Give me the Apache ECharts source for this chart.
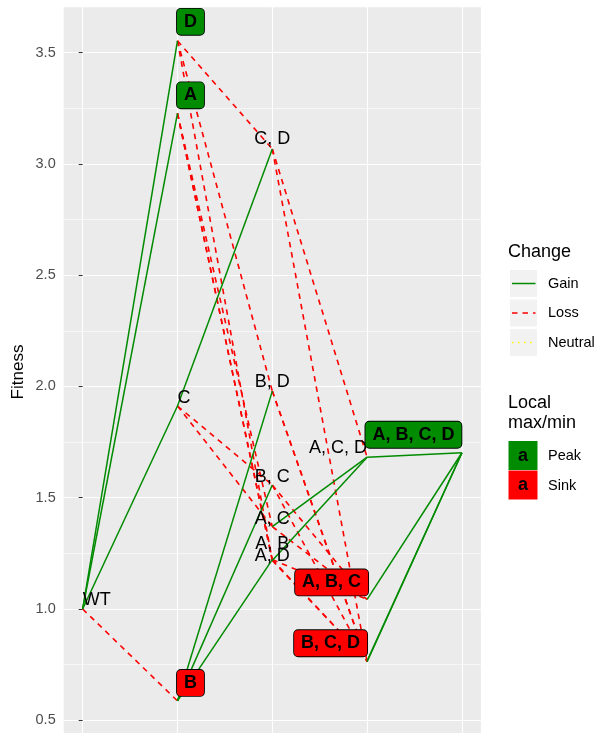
<!DOCTYPE html>
<html><head><meta charset="utf-8">
<script src="https://cdn.jsdelivr.net/npm/echarts@6/dist/echarts.min.js"></script>
<style>html,body{margin:0;padding:0;background:#fff}#c{width:598px;height:733px}</style>
</head><body><div id="c"></div>
<script>
// ---- data ----
const genotypes = ["WT","A","B","C","D","A, B","A, C","A, D","B, C","B, D","C, D","A, B, C","A, B, D","A, C, D","B, C, D","A, B, C, D"];
const mutations = [0,1,1,1,1,2,2,2,2,2,2,3,3,3,3,4];
const fitness   = [1.000,3.227,0.587,1.912,3.553,1.222,1.370,1.218,1.557,1.979,3.067,1.043,0.767,1.682,0.763,1.702];
const edges = [
  ["WT","A"],["WT","B"],["WT","C"],["WT","D"],
  ["A","A, B"],["A","A, C"],["A","A, D"],["B","A, B"],["B","B, C"],["B","B, D"],
  ["C","A, C"],["C","B, C"],["C","C, D"],["D","A, D"],["D","B, D"],["D","C, D"],
  ["A, B","A, B, C"],["A, B","A, B, D"],["A, C","A, B, C"],["A, C","A, C, D"],
  ["A, D","A, B, D"],["A, D","A, C, D"],["B, C","A, B, C"],["B, C","B, C, D"],
  ["B, D","A, B, D"],["B, D","B, C, D"],["C, D","A, C, D"],["C, D","B, C, D"],
  ["A, B, C","A, B, C, D"],["A, B, D","A, B, C, D"],["A, C, D","A, B, C, D"],["B, C, D","A, B, C, D"]
];
const peaks = ["A","D","A, B, C, D"];
const sinks = ["B","A, B, C","A, B, D","B, C, D"];
const yTicks = [0.5,1.0,1.5,2.0,2.5,3.0,3.5];
const changeLevels = ["Gain","Loss","Neutral"];
const localLevels = ["Peak","Sink"];

// ---- styling (label placement in pixels, not data) ----
const labelPlace = {
  "WT":['left',0,-9], "A":['center',13,-18], "B":['center',13,-18], "C":['left',0,-8], "D":['center',13,-19],
  "A, B":['center',0,-16], "A, C":['center',0,-8], "A, D":['center',0,-4], "B, C":['center',0,-8],
  "B, D":['center',0,-9], "C, D":['center',0,-10],
  "A, B, C":['center',-35.5,-17], "A, B, D":null, "A, C, D":['right',0,-9],
  "B, C, D":['center',-36.5,-18.5], "A, B, C, D":['center',-48.5,-18]
};
const GREEN = '#008B00', RED = '#FF0000';
const FONT = '"Liberation Sans", Arial, Helvetica, sans-serif';

const idx = {}; genotypes.forEach((g,i)=>idx[g]=i);
const gainData = [], lossData = [];
edges.forEach(([a,b])=>{
  const ia = idx[a], ib = idx[b];
  const item = {coords:[[mutations[ia],fitness[ia]],[mutations[ib],fitness[ib]]]};
  (fitness[ib] > fitness[ia] ? gainData : lossData).push(item);
});

const nodeData = genotypes.map((g,i)=>{
  const p = labelPlace[g];
  const isPeak = peaks.includes(g), isSink = sinks.includes(g);
  const lab = p ? {
    show:true, position:'inside', align:p[0], verticalAlign:'middle', offset:[p[1],p[2]],
    formatter:g, color:'#000', opacity:1, fontFamily:FONT, fontSize:18, lineHeight:18
  } : {show:false};
  if (p && (isPeak || isSink)) {
    Object.assign(lab, {
      fontWeight:'bold', backgroundColor: isPeak ? GREEN : RED,
      borderColor:'#000', borderWidth:0.9, borderRadius:4, padding:[4,7,4,7]
    });
  }
  return {name:g, value:[mutations[i], fitness[i]], label:lab};
});

const chart = echarts.init(document.getElementById('c'), null, {renderer:'canvas'});

// panel geometry: y from 0 to 4 maps to pixels 831.57 .. -58.7
const gTop = -58.7, gBottom = 733 - 831.57;

const legendX = 508;
const keyX = 510, keyW = 27;
const graphics = [
  {type:'rect', z:50, shape:{x:0,y:-100,width:598,height:107.3}, style:{fill:'#fff'}},
  {type:'text', z:60, x:18, y:372, rotation:Math.PI/2,
   style:{text:'Fitness', fill:'#000', font:'17px '+FONT, align:'center', verticalAlign:'middle'}},
  {type:'text', z:60, x:legendX, y:252, style:{text:'Change', fill:'#000', font:'18px '+FONT, align:'left', verticalAlign:'middle'}},
  {type:'text', z:60, x:legendX, y:403.5, style:{text:'Local', fill:'#000', font:'18px '+FONT, align:'left', verticalAlign:'middle'}},
  {type:'text', z:60, x:legendX, y:423.5, style:{text:'max/min', fill:'#000', font:'18px '+FONT, align:'left', verticalAlign:'middle'}}
];
const keyYs = [270, 299.5, 329];
const keyLine = [
  {stroke:GREEN, lineDash:null},
  {stroke:RED, lineDash:[5.5,5]},
  {stroke:'#FFFF00', lineDash:[1.5,4.5]}
];
changeLevels.forEach((t,i)=>{
  const y0 = keyYs[i];
  graphics.push({type:'rect', z:60, shape:{x:keyX, y:y0, width:keyW, height:27}, style:{fill:'#F2F2F2'}});
  graphics.push({type:'line', z:61, shape:{x1:keyX+2, y1:y0+13.5, x2:keyX+25.5, y2:y0+13.5},
    style:{stroke:keyLine[i].stroke, lineWidth:1.5, lineDash:keyLine[i].lineDash}});
  graphics.push({type:'text', z:61, x:548, y:y0+13.5, style:{text:t, fill:'#000', font:'14.5px '+FONT, align:'left', verticalAlign:'middle'}});
});
const locYs = [441, 470.5];
localLevels.forEach((t,i)=>{
  const y0 = locYs[i];
  graphics.push({type:'rect', z:60, shape:{x:508.5, y:y0, width:29, height:29}, style:{fill: i===0?GREEN:RED}});
  graphics.push({type:'text', z:61, x:523, y:y0+15, style:{text:'a', fill:'#000', font:'bold 18px '+FONT, align:'center', verticalAlign:'middle'}});
  graphics.push({type:'text', z:61, x:548, y:y0+15, style:{text:t, fill:'#000', font:'14.5px '+FONT, align:'left', verticalAlign:'middle'}});
});

chart.setOption({
  animation:false,
  backgroundColor:'#fff',
  grid:{left:63.7, right:117.1, top:gTop, bottom:gBottom, show:true, backgroundColor:'#EBEBEB', borderWidth:0,
        containLabel:false, outerBoundsMode:'none'},
  xAxis:{type:'value', min:-0.2, max:4.2, splitNumber:5,
    axisLine:{show:false}, axisTick:{show:false}, axisLabel:{show:false},
    splitLine:{show:true, showMinLine:false, showMaxLine:false, lineStyle:{color:'#fff', width:1.1}}},
  yAxis:{type:'value', min:0, max:4, interval:0.5,
    axisLine:{show:false},
    axisTick:{show:true, length:4, lineStyle:{color:'#333', width:1}},
    axisLabel:{show:true, margin:8, color:'#4D4D4D', fontFamily:FONT, fontSize:14.5,
      formatter:(v)=> yTicks.some(t=>Math.abs(t-v)<1e-9) ? v.toFixed(1) : ''},
    splitLine:{show:true, lineStyle:{color:'#fff', width:1.1}},
    minorTick:{show:false, splitNumber:2},
    minorSplitLine:{show:true, lineStyle:{color:'#fff', width:0.55}}},
  graphic:graphics,
  series:[
    {type:'lines', coordinateSystem:'cartesian2d', silent:true, z:2, data:lossData,
     lineStyle:{color:RED, width:1.6, type:[5.5,5], opacity:1, curveness:0}},
    {type:'lines', coordinateSystem:'cartesian2d', silent:true, z:3, data:gainData,
     lineStyle:{color:GREEN, width:1.5, type:'solid', opacity:1, curveness:0}},
    {type:'scatter', silent:true, z:5, symbolSize:1, data:nodeData,
     itemStyle:{color:'rgba(0,0,0,0)', opacity:1}}
  ]
});
</script></body></html>
